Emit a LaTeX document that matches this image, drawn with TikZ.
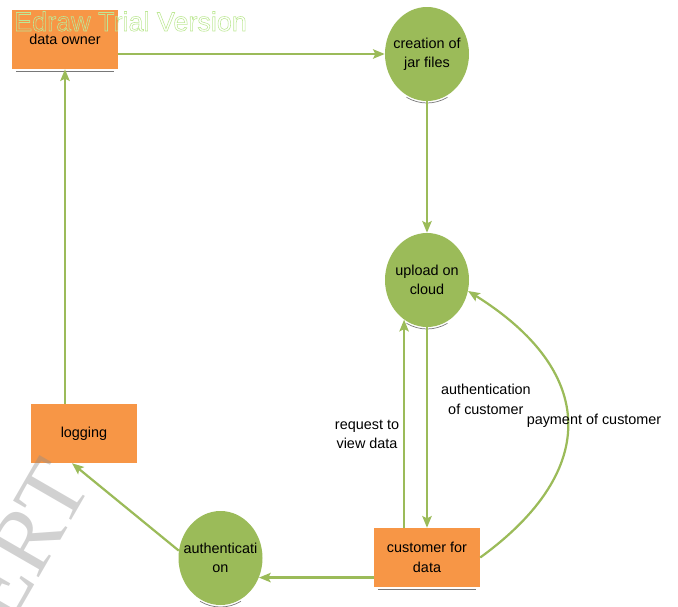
\documentclass[tikz,border=0pt]{standalone}
\usepackage{fontspec}
\setmainfont{Liberation Sans}
\newfontfamily\wmserif{Liberation Serif}
\usepackage{tikz}
\usetikzlibrary{shapes.geometric, arrows.meta, calc}
\definecolor{boxorange}{RGB}{247,150,70}
\definecolor{ovalgreen}{RGB}{155,187,89}
\definecolor{linegreen}{RGB}{155,187,89}
\definecolor{trialgreen}{RGB}{190,232,150}
\definecolor{markgray}{RGB}{140,140,140}
\definecolor{shadowgray}{RGB}{120,120,120}

\begin{document}
\begin{tikzpicture}[
  procbox/.style={rectangle, fill=boxorange,
                  minimum width=3.18cm, minimum height=1.77cm,
                  align=center, font=\fontsize{12.3}{16.5}\selectfont},
  ovalbox/.style={ellipse, fill=ovalgreen,
                  minimum width=2.52cm, minimum height=2.82cm,
                  inner xsep=-8pt, inner ysep=2pt,
                  align=center, font=\fontsize{12.3}{16.5}\selectfont},
  arr/.style={-{Stealth[length=10pt, width=8pt, inset=2pt]}, line width=1.9pt, draw=linegreen},
  shd/.style={draw=shadowgray, line width=0.6pt},
  lbl/.style={font=\fontsize{12.3}{16.5}\selectfont, align=center},
  wmark/.style={font=\wmserif\fontsize{78}{80}\selectfont, text=markgray, text opacity=0.4, inner sep=0pt},
  trial/.style={font=\fontsize{23}{26}\selectfont, text=trialgreen, inner sep=0pt}
]
\useasboundingbox (0,0) rectangle (20.34,-18.21);
\clip (0,0) rectangle (20.34,-18.21);

\node[procbox] (own)   at (1.95,  -1.185)  {data owner};
\node[ovalbox] (jar)   at (12.81, -1.62)   {creation of\\jar files};
\node[ovalbox] (cloud) at (12.81, -8.4)    {upload on\\cloud};
\node[procbox] (log)   at (2.52, -13.005)  {logging};
\node[ovalbox] (auth)  at (6.615,-16.74)   {authenticati\\on};
\node[procbox] (cust)  at (12.81,-16.725)  {customer for\\data};

% watermark over the boxes
\node[wmark, rotate=60] (ijert) at (0.27,-17.1) {IJERT};

% shadows
\draw[shd] ([xshift=0.12cm,yshift=-0.07cm]own.south west) -- ([xshift=-0.12cm,yshift=-0.07cm]own.south east);
\draw[shd] ([xshift=0.12cm,yshift=-0.07cm]cust.south west) -- ([xshift=-0.12cm,yshift=-0.07cm]cust.south east);
\draw[shd] ($(jar.center)+(-118:1.31cm and 1.47cm)$) arc[start angle=-118, end angle=-62, x radius=1.31cm, y radius=1.47cm];
\draw[shd] ($(cloud.center)+(-118:1.31cm and 1.47cm)$) arc[start angle=-118, end angle=-62, x radius=1.31cm, y radius=1.47cm];
\draw[shd] ($(auth.center)+(-118:1.31cm and 1.47cm)$) arc[start angle=-118, end angle=-62, x radius=1.31cm, y radius=1.47cm];

\draw[arr] (own.east |- jar.west) -- (jar.west);
\draw[arr] (jar.south) -- (cloud.north);
\draw[arr] (cust.north -| cloud.240) -- node[lbl, left, pos=0.45] {request to\\view data} (cloud.240);
\draw[arr] (cloud.south) -- node[lbl, right, pos=0.36, xshift=0.27cm] {authentication\\of customer} (cust.north);
\draw[arr] (cust.east) .. controls +(36:4.5) and +(-32:4.5) .. node[lbl, midway, xshift=0.8cm] {payment of customer} (cloud.-15);
\draw[arr] (cust.west |- auth.-27) -- (auth.-27);
\draw[arr] (auth.170) -- ([xshift=-0.36cm]log.south);
\draw[arr] (own.south |- log.north) -- (own.south);

\node[trial, anchor=base west] (edraw) at (0.42,-0.93)
  {\special{pdf:literal direct 1 Tr 0.5 w}Edraw Trial Version\special{pdf:literal direct 0 Tr}};

\end{tikzpicture}
\end{document}
